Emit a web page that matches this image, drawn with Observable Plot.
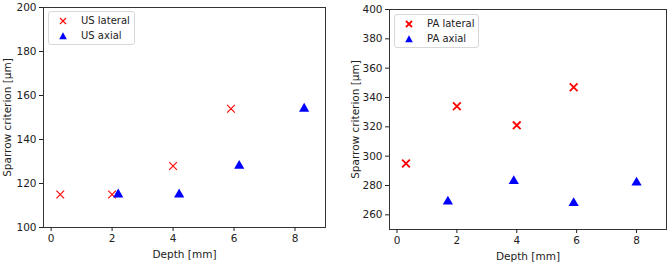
<!DOCTYPE html>
<html>
<head>
<meta charset="utf-8">
<script src="https://cdn.jsdelivr.net/npm/d3@7"></script>
<script src="https://cdn.jsdelivr.net/npm/@observablehq/plot@0.6"></script>
<style>
  html, body { margin: 0; padding: 0; background: #fff; }
  body { font-family: "DejaVu Sans", sans-serif; }
  #wrap { display: flex; width: 669px; height: 263px; }
  .panel { position: relative; }
  .legend { position: absolute; border: 1px solid #d8d8d8; border-radius: 3px; background: rgba(255,255,255,0.85);
            font: 10px "DejaVu Sans", sans-serif; color: #222; padding: 1px 4px 1px 9px; box-sizing: border-box; white-space: nowrap; }
  .legend .row { display: flex; align-items: center; height: 15px; }
  .legend svg { margin-right: 13px; flex: none; }
</style>
</head>
<body>
<div id="wrap"></div>
<script>
// ---- data ----
const usLateralDepth = [0.3, 2.0, 4.0, 5.9];
const usLateralValue = [115, 115, 128, 154];
const usAxialDepth = [2.2, 4.2, 6.17, 8.3];
const usAxialValue = [115, 115, 128, 154];

const paLateralDepth = [0.3, 2.0, 4.0, 5.9];
const paLateralValue = [295, 334, 321, 347];
const paAxialDepth = [1.7, 3.9, 5.9, 8.0];
const paAxialValue = [269, 283, 268, 282];

const xTicks = [0, 2, 4, 6, 8];
const usYTicks = [100, 120, 140, 160, 180, 200];
const paYTicks = [260, 280, 300, 320, 340, 360, 380, 400];

const usLabels = ["US lateral", "US axial"];
const paLabels = ["PA lateral", "PA axial"];

const xLabel = "Depth [mm]";
const yLabel = "Sparrow criterion [μm]";

function toRows(xs, ys) { return xs.map((x, i) => ({x, y: ys[i]})); }

function panel(opts) {
  const {width, marginLeft, marginRight, marginTop, marginBottom, yDomain, yTicks, lateral, axial, labels, xStrokeWidth, yLabelOffset, legendPos} = opts;
  const chart = Plot.plot({
    width, height: 263,
    marginLeft, marginRight, marginTop, marginBottom,
    style: {fontFamily: "DejaVu Sans, sans-serif", fontSize: "10.5px", color: "#222", background: "white"},
    x: {domain: [-0.25, 9], ticks: xTicks},
    y: {domain: yDomain, ticks: yTicks},
    marks: [
      Plot.frame({stroke: "#333", strokeWidth: 1}),
      Plot.axisX({ticks: xTicks, tickSize: 4, tickPadding: 3, label: xLabel, labelAnchor: "center", labelArrow: "none", labelOffset: 30}),
      Plot.axisY({ticks: yTicks, tickSize: 4, tickPadding: 3, label: yLabel, labelAnchor: "center", labelArrow: "none", labelOffset: yLabelOffset}),
      Plot.dot(lateral, {x: "x", y: "y", symbol: "times", stroke: "red", strokeWidth: xStrokeWidth, r: 3.6}),
      Plot.dot(axial, {x: "x", y: "y", symbol: "triangle", fill: "blue", stroke: "none", r: 3.8})
    ]
  });
  const div = document.createElement("div");
  div.className = "panel";
  div.style.width = width + "px";
  div.appendChild(chart);
  const leg = document.createElement("div");
  leg.className = "legend";
  leg.style.left = legendPos.left + "px";
  leg.style.top = legendPos.top + "px";
  leg.style.width = legendPos.width + "px";
  leg.innerHTML =
    `<div class="row"><svg width="10" height="10" viewBox="-5 -5 10 10"><path d="M-3,-3L3,3M-3,3L3,-3" stroke="red" stroke-width="${xStrokeWidth}"/></svg><span>${labels[0]}</span></div>` +
    `<div class="row"><svg width="10" height="10" viewBox="-5 -5 10 10"><path d="M0,-3.8L3.8,3.2L-3.8,3.2Z" fill="blue"/></svg><span>${labels[1]}</span></div>`;
  div.appendChild(leg);
  return div;
}

const wrap = document.getElementById("wrap");
wrap.appendChild(panel({
  width: 335, marginLeft: 43, marginRight: 10, marginTop: 7, marginBottom: 36,
  yDomain: [100, 200], yTicks: usYTicks,
  lateral: toRows(usLateralDepth, usLateralValue), axial: toRows(usAxialDepth, usAxialValue),
  labels: usLabels, xStrokeWidth: 1.1, yLabelOffset: 40, legendPos: {left: 48, top: 11, width: 87}
}));
wrap.appendChild(panel({
  width: 334, marginLeft: 54, marginRight: 3, marginTop: 9, marginBottom: 34,
  yDomain: [250, 400], yTicks: paYTicks,
  lateral: toRows(paLateralDepth, paLateralValue), axial: toRows(paAxialDepth, paAxialValue),
  labels: paLabels, xStrokeWidth: 1.8, yLabelOffset: 38, legendPos: {left: 59, top: 14, width: 85}
}));
</script>
</body>
</html>
